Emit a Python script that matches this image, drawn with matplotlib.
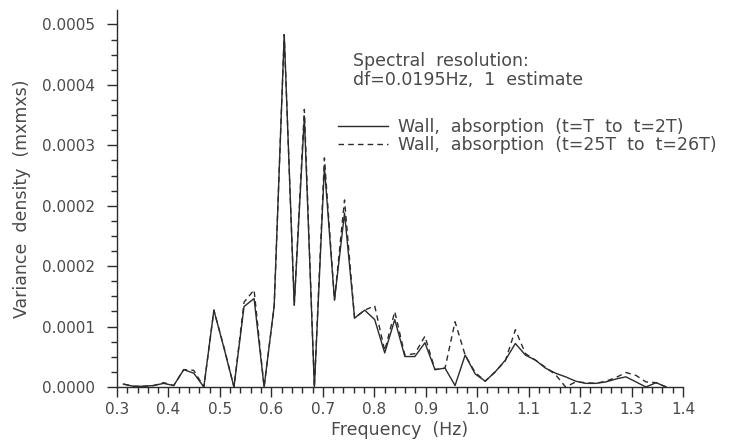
import matplotlib
matplotlib.use("Agg")
import matplotlib.pyplot as plt
from matplotlib.ticker import MultipleLocator

# frequencias (resolucao df = 0.0195 Hz)
freq = [0.3125, 0.3320, 0.3516, 0.3711, 0.3906, 0.4102, 0.4297, 0.4492, 0.4688, 0.4883,
        0.5078, 0.5273, 0.5469, 0.5664, 0.5859, 0.6055, 0.6250, 0.6445, 0.6641, 0.6836,
        0.7031, 0.7227, 0.7422, 0.7617, 0.7813, 0.8008, 0.8203, 0.8398, 0.8594, 0.8789,
        0.8984, 0.9180, 0.9375, 0.9570, 0.9766, 0.9961, 1.0156, 1.0352, 1.0547, 1.0742,
        1.0938, 1.1133, 1.1328, 1.1523, 1.1719, 1.1914, 1.2109, 1.2305, 1.2500, 1.2695,
        1.2891, 1.3086, 1.3281, 1.3477, 1.3672]

# t=T a t=2T
wall_t1 = [0.000004, 0.000001, 0.000001, 0.000002, 0.000005, 0.000002, 0.000024, 0.000019, 0.0, 0.000106,
           0.000054, 0.0, 0.000111, 0.000122, 0.0, 0.000112, 0.000486, 0.000113, 0.000373, 0.0,
           0.000304, 0.000120, 0.000240, 0.000095, 0.000106, 0.000093, 0.000047, 0.000093, 0.000042, 0.000042,
           0.000061, 0.000024, 0.000026, 0.000002, 0.000044, 0.000018, 0.000008, 0.000021, 0.000037, 0.000060,
           0.000044, 0.000037, 0.000026, 0.000019, 0.000014, 0.000008, 0.000005, 0.000005, 0.000007, 0.000011,
           0.000014, 0.000007, 0.0, 0.000006, 0.0]

# t=25T a t=26T
wall_t25 = [0.000004, 0.000001, 0.000001, 0.000002, 0.000006, 0.000002, 0.000024, 0.000023, 0.0, 0.000106,
            0.000055, 0.0, 0.000117, 0.000134, 0.0, 0.000112, 0.000486, 0.000113, 0.000383, 0.0,
            0.000316, 0.000120, 0.000258, 0.000095, 0.000106, 0.000112, 0.000050, 0.000104, 0.000044, 0.000046,
            0.000070, 0.000024, 0.000026, 0.000090, 0.000044, 0.000020, 0.000008, 0.000021, 0.000036, 0.000079,
            0.000046, 0.000037, 0.000027, 0.000017, 0.0, 0.000007, 0.000006, 0.000005, 0.000008, 0.000013,
            0.000020, 0.000016, 0.000007, 0.000006, 0.0]

ytick_vals = [0.0, 0.0005 / 6, 0.001 / 6, 0.0015 / 6, 0.002 / 6, 0.0025 / 6, 0.0005]
ytick_labels = ["0.0000", "0.0001", "0.0002", "0.0002", "0.0003", "0.0004", "0.0005"]

txt = "#4a4a4a"
ink = "#2b2b2b"

fig = plt.figure(figsize=(7.31, 4.40), dpi=100)
ax = fig.add_axes([117 / 731, 1 - 387 / 440, 566 / 731, 377 / 440])

ax.plot(freq, wall_t1, color=ink, lw=1.0, label="Wall,  absorption  (t=T  to  t=2T)")
ax.plot(freq, wall_t25, color=ink, lw=1.0, linestyle=(0, (4, 3)),
        label="Wall,  absorption  (t=25T  to  t=26T)")

ax.set_xlim(0.3, 1.4)
ax.set_ylim(0, 0.00052)
ax.xaxis.set_major_locator(MultipleLocator(0.1))
ax.xaxis.set_minor_locator(MultipleLocator(0.02))
ax.set_yticks(ytick_vals)
ax.set_yticklabels(ytick_labels)
ax.yaxis.set_minor_locator(MultipleLocator(0.0005 / 24))

for s in ["top", "right"]:
    ax.spines[s].set_visible(False)
for s in ["left", "bottom"]:
    ax.spines[s].set_color(ink)
    ax.spines[s].set_linewidth(1.0)

ax.tick_params(which="major", direction="out", length=7.5, width=1.0, color=ink,
               labelsize=11, labelcolor=txt)
ax.tick_params(which="minor", direction="out", length=4, width=1.0, color=ink)
ax.tick_params(axis="x", pad=3)
ax.tick_params(axis="y", pad=8)

ax.set_xlabel("Frequency  (Hz)", fontsize=12.5, color=txt, labelpad=3)
ax.set_ylabel("Variance  density  (mxmxs)", fontsize=12.5, color=txt, labelpad=8)

fig.text(353 / 731, 1 - 52 / 440, "Spectral  resolution:\ndf=0.0195Hz,  1  estimate",
         fontsize=12.5, color=txt, va="top", ha="left", linespacing=1.05)

leg = ax.legend(loc="upper left", bbox_to_anchor=(338 / 731, 1 - 118 / 440),
                bbox_transform=fig.transFigure, frameon=False, fontsize=12.5,
                handlelength=2.9, handletextpad=0.55, labelspacing=0.02,
                borderaxespad=0, borderpad=0)
for t in leg.get_texts():
    t.set_color(txt)

plt.savefig("out.png", dpi=100)
plt.close()
